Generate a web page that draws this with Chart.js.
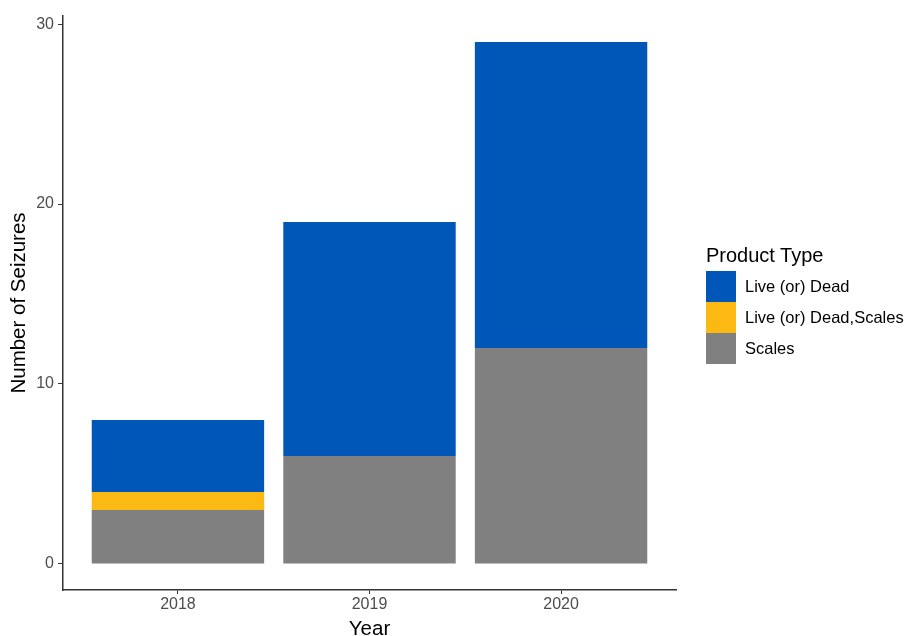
<!DOCTYPE html>
<html>
<head>
<meta charset="utf-8">
<script src="https://cdn.jsdelivr.net/npm/chart.js@4"></script>
<style>
  body { margin: 0; background: #fff; }
  #wrap { position: relative; width: 906px; height: 636px; font-family: "Liberation Sans", Arial, sans-serif; }
  #legend { position: absolute; left: 706px; top: 241px; }
  #legend .title { font-size: 20px; color: #000; height: 30px; line-height: 28px; }
  #legend .row { display: flex; align-items: center; height: 31px; }
  #legend .key { width: 30px; height: 31px; margin-right: 9px; }
  #legend .lab { font-size: 16.5px; color: #000; }
</style>
</head>
<body>
<div id="wrap">
  <canvas id="grafico" width="906" height="636"></canvas>
  <div id="legend"></div>
</div>
<script>
var anos = [2018, 2019, 2020];
var scales = [3, 6, 12];
var liveDeadScales = [1, 0, 0];
var liveDead = [4, 13, 17];
var yTicks = [0, 10, 20, 30];

var series = [
    { label: "Scales", data: scales, color: "#808080" },
    { label: "Live (or) Dead,Scales", data: liveDeadScales, color: "#FDB913" },
    { label: "Live (or) Dead", data: liveDead, color: "#0057B7" }
];

var datasets = series.map(function (s) {
    return {
        label: s.label,
        data: s.data.map(function (v, i) { return { x: anos[i], y: v }; }),
        backgroundColor: s.color,
        borderWidth: 0,
        barPercentage: 0.9,
        categoryPercentage: 1
    };
});

// legenda em html, na ordem do ggplot
var leg = document.getElementById("legend");
var html = '<div class="title">Product Type</div>';
series.slice().reverse().forEach(function (s) {
    html += '<div class="row"><div class="key" style="background:' + s.color + '"></div><span class="lab">' + s.label + '</span></div>';
});
leg.innerHTML = html;

var tickFont = { family: "Liberation Sans", size: 16 };
var titleFont = { family: "Liberation Sans", size: 20.5 };

new Chart(document.getElementById("grafico").getContext("2d"), {
    type: "bar",
    data: { datasets: datasets },
    options: {
        responsive: false,
        animation: false,
        layout: { padding: { left: 0, top: 16, right: 230, bottom: 0 } },
        plugins: { legend: { display: false }, tooltip: { enabled: false } },
        scales: {
            x: {
                type: "linear",
                stacked: true,
                min: 2017.4,
                max: 2020.6,
                offset: false,
                afterBuildTicks: function (s) { s.ticks = anos.map(function (v) { return { value: v }; }); },
                afterFit: function (s) { s.height = 46; },
                ticks: {
                    color: "#4d4d4d",
                    font: tickFont,
                    padding: 1,
                    callback: function (v) { return String(v); }
                },
                grid: { display: true, offset: false, drawOnChartArea: false, drawTicks: true, tickLength: 4, color: "#333", lineWidth: 1 },
                border: { display: true, color: "#333", width: 1.5 },
                title: { display: true, text: "Year", color: "#000", font: titleFont, padding: { top: 0, bottom: -6 } }
            },
            y: {
                stacked: true,
                min: -1.45,
                max: 30.45,
                afterBuildTicks: function (s) { s.ticks = yTicks.map(function (v) { return { value: v }; }); },
                afterFit: function (s) { s.width = 63; },
                ticks: { color: "#4d4d4d", font: tickFont, padding: 4 },
                grid: { display: true, offset: false, drawOnChartArea: false, drawTicks: true, tickLength: 5, color: "#333", lineWidth: 1 },
                border: { display: true, color: "#333", width: 1.5 },
                title: { display: true, text: "Number of Seizures", color: "#000", font: titleFont, padding: { top: 7, bottom: 0 } }
            }
        }
    }
});
</script>
</body>
</html>
